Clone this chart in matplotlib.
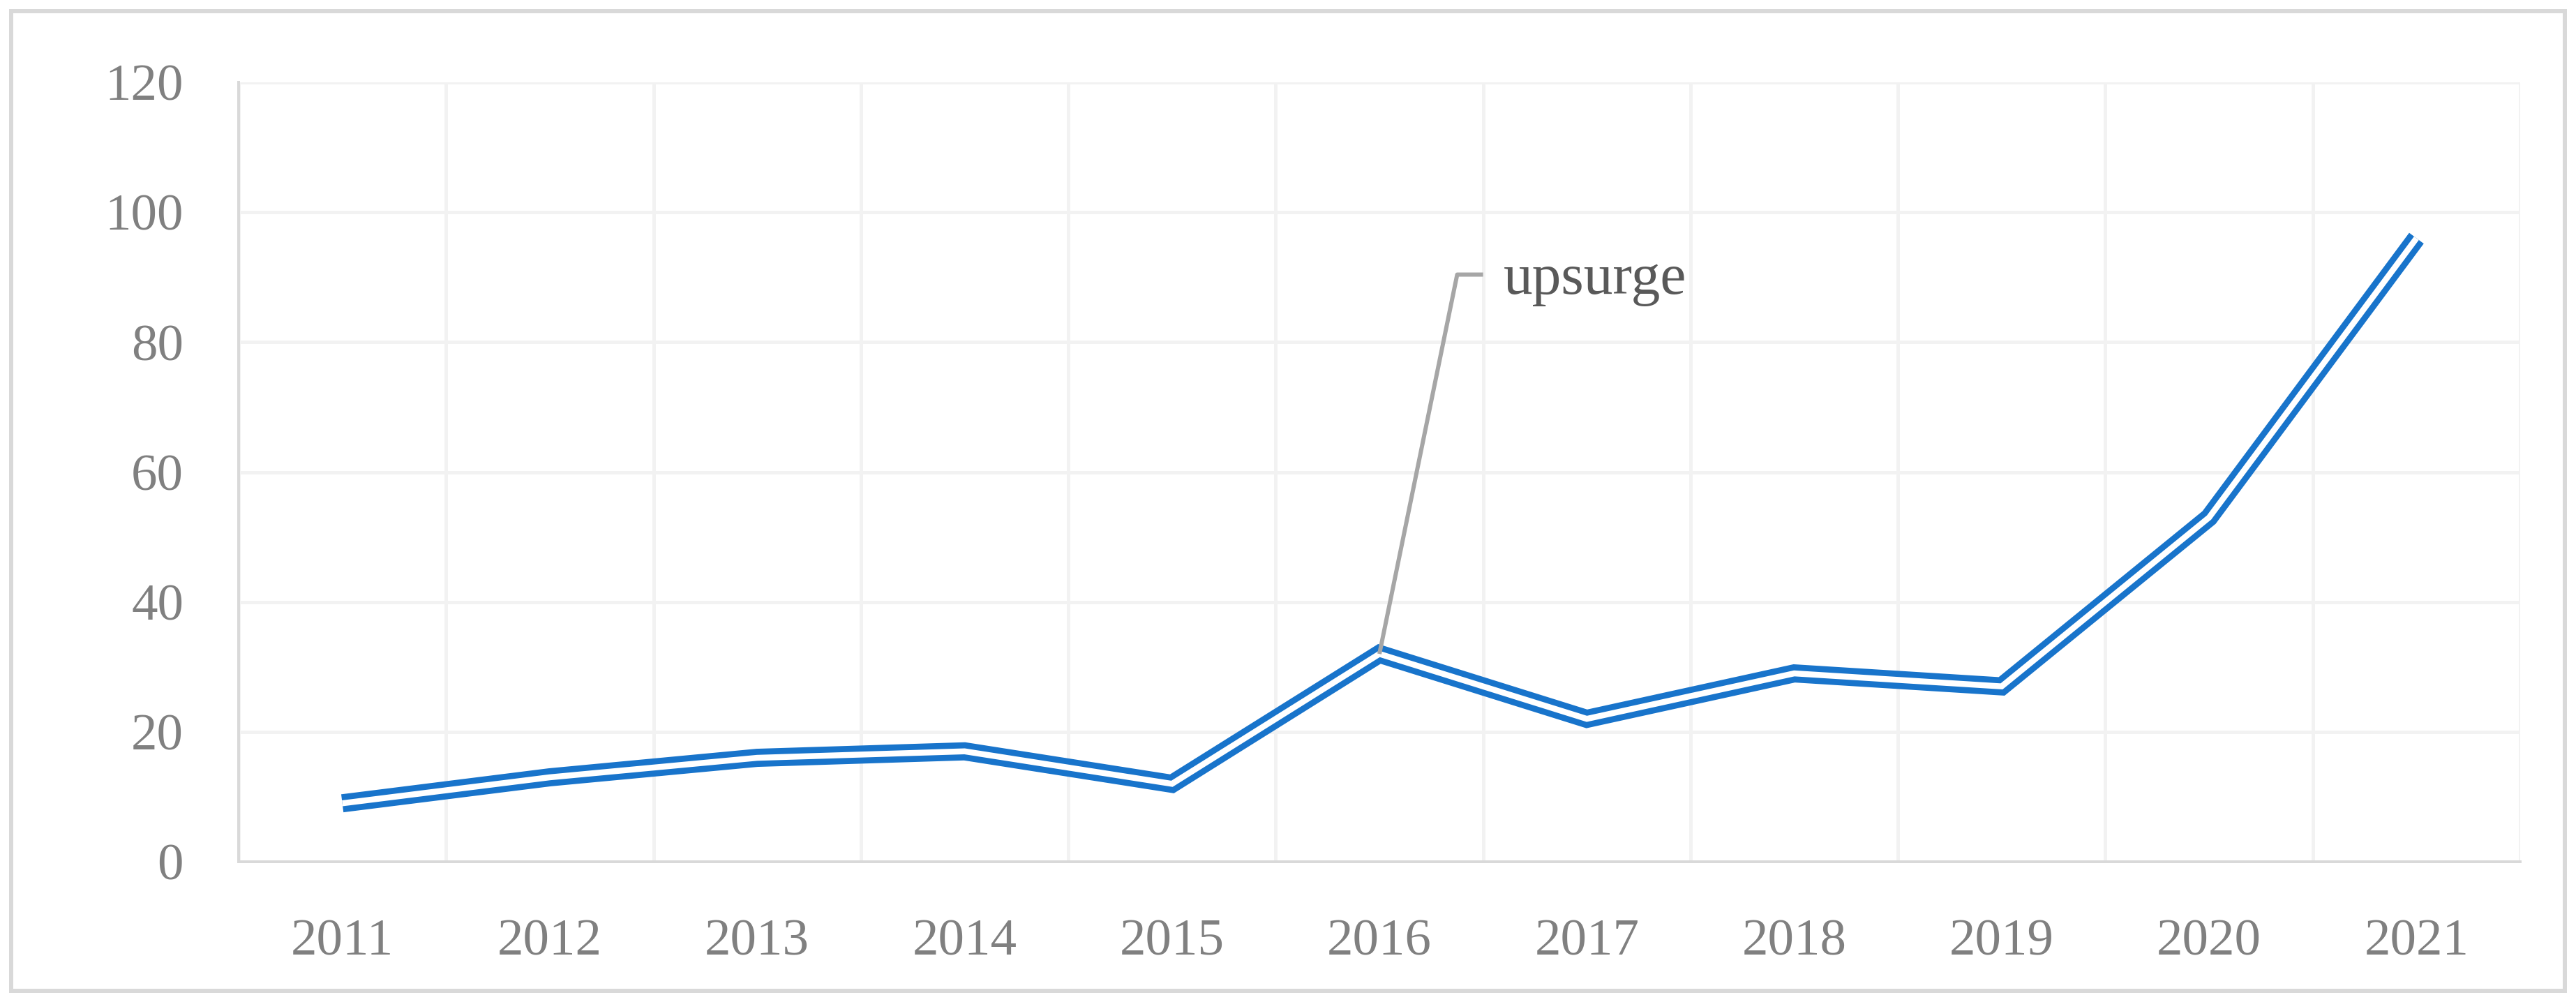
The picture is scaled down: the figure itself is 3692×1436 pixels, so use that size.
import matplotlib
matplotlib.use("Agg")
import matplotlib.pyplot as plt
from matplotlib.patches import Rectangle
import numpy as np

# ---- data ----
years = ["2011", "2012", "2013", "2014", "2015", "2016",
         "2017", "2018", "2019", "2020", "2021"]
values = [9, 13, 16, 17, 12, 32, 22, 29, 27, 53, 96]
y_ticks = [0, 20, 40, 60, 80, 100, 120]
annot_label = "upsurge"
annot_year = "2016"

# ---- style ----
DPI = 200
W, H = 3692, 1436
px = 72.0 / DPI  # points per pixel

BLUE = "#1874CB"
GRID = "#F2F2F2"
AXIS = "#D9D9D9"
TICK = "#808080"
ANNOT = "#595959"
LEADER = "#A6A6A6"
FONT = "Liberation Serif"

plt.rcParams["font.family"] = [FONT, "DejaVu Serif"]

fig = plt.figure(figsize=(W / DPI, H / DPI), dpi=DPI)
fig.patch.set_facecolor("white")

# outer frame
fig.add_artist(Rectangle((16 / W, 16 / H), (W - 32) / W, (H - 32) / H,
                         transform=fig.transFigure, fill=False,
                         edgecolor=AXIS, linewidth=6 * px))

left, right, top, bottom = 342, 3612, 118, 1235
ax = fig.add_axes([left / W, (H - bottom) / H, (right - left) / W, (bottom - top) / H])

x = np.arange(len(years))
ax.set_xlim(-0.5, len(years) - 0.5)
ax.set_ylim(0, 120)

# grid
ax.set_yticks(y_ticks)
ax.set_yticklabels([str(t) for t in y_ticks])
ax.set_xticks(x)
ax.set_xticklabels(years)
ax.set_xticks(np.arange(-0.5, len(years), 1.0), minor=True)
ax.grid(True, which="minor", axis="x", color=GRID, linewidth=5 * px, zorder=0)
ax.grid(True, which="major", axis="y", color=GRID, linewidth=5 * px, zorder=0)
ax.grid(False, which="major", axis="x")
ax.set_axisbelow(True)

for s in ["top", "right"]:
    ax.spines[s].set_visible(False)
for s in ["left", "bottom"]:
    ax.spines[s].set_color(AXIS)
    ax.spines[s].set_linewidth(4 * px)
    ax.spines[s].set_zorder(1)

ax.tick_params(axis="both", which="both", length=0)
ax.tick_params(axis="y", pad=79 * px, labelsize=27, labelcolor=TICK)
ax.tick_params(axis="x", pad=82 * px, labelsize=27, labelcolor=TICK)

# double (compound) line: thick blue with thin white core
ax.plot(x, values, color=BLUE, linewidth=26 * px, solid_capstyle="butt",
        solid_joinstyle="miter", zorder=3, clip_on=False)
ax.plot(x, values, color="white", linewidth=8.5 * px, solid_capstyle="butt",
        solid_joinstyle="miter", zorder=4, clip_on=False)

# annotation with leader line
i = years.index(annot_year)
ax_val = values[i]
kink_x, kink_y = i + 0.375, 90.4
ax.plot([i, kink_x, i + 0.5], [ax_val, kink_y, kink_y], color=LEADER,
        linewidth=6 * px, solid_capstyle="butt", zorder=5)
ax.text(i + 0.597, 89.6, annot_label, color=ANNOT, fontsize=30,
        ha="left", va="center", zorder=6)

fig.savefig("out.png", dpi=DPI, facecolor="white")
